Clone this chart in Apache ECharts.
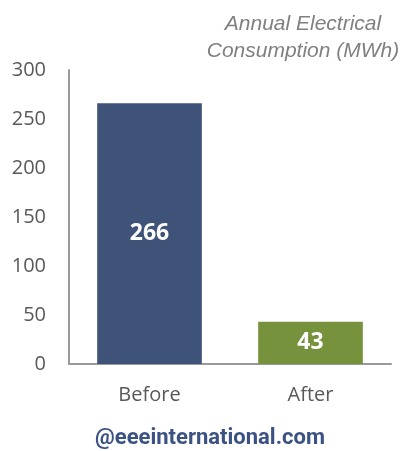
<!DOCTYPE html>
<html>
<head>
<meta charset="utf-8">
<script src="https://cdn.jsdelivr.net/npm/echarts@6/dist/echarts.min.js"></script>
<style>
  html, body { margin: 0; padding: 0; background: #fff; }
  #chart { width: 403px; height: 451px; }
</style>
</head>
<body>
<div id="chart"></div>
<script>
var categories = ['Before', 'After'];
var values = [266, 43];
var barColors = ['#3F5378', '#76923C'];
var yTicks = { min: 0, max: 300, interval: 50 };

var myChart = echarts.init(document.getElementById('chart'));

var option = {
    animation: false,
    title: {
        text: 'Annual Electrical\nConsumption (MWh)',
        left: 298,
        top: 6,
        textAlign: 'center',
        textStyle: {
            fontFamily: 'Liberation Sans',
            fontStyle: 'italic',
            fontWeight: 'normal',
            fontSize: 21,
            lineHeight: 27,
            color: '#808080'
        }
    },
    grid: {
        left: 69,
        right: 12,
        top: 70,
        bottom: 87
    },
    xAxis: {
        type: 'category',
        data: categories,
        axisLine: { lineStyle: { color: '#999', width: 2 } },
        axisTick: { show: false },
        axisLabel: {
            margin: 21,
            fontSize: 20,
            fontFamily: 'Open Sans',
            color: '#595959'
        }
    },
    yAxis: {
        type: 'value',
        min: yTicks.min,
        max: yTicks.max,
        interval: yTicks.interval,
        axisLine: { show: true, lineStyle: { color: '#999', width: 2 } },
        axisTick: { show: false },
        splitLine: { show: false },
        axisLabel: {
            margin: 23,
            fontSize: 20,
            fontFamily: 'Open Sans',
            color: '#595959'
        }
    },
    series: [{
        type: 'bar',
        barWidth: '65%',
        data: values.map(function (v, i) {
            return { value: v, itemStyle: { color: barColors[i] } };
        }),
        label: {
            show: true,
            position: 'inside',
            color: '#fff',
            fontWeight: 'bold',
            fontSize: 23,
            fontFamily: 'Open Sans'
        }
    }],
    graphic: [{
        type: 'text',
        x: 210,
        y: 427,
        style: {
            text: '@eeeinternational.com',
            textAlign: 'center',
            fontFamily: 'Roboto',
            fontWeight: 'bold',
            fontSize: 22,
            fill: '#3B5283'
        }
    }]
};

myChart.setOption(option);
</script>
</body>
</html>
